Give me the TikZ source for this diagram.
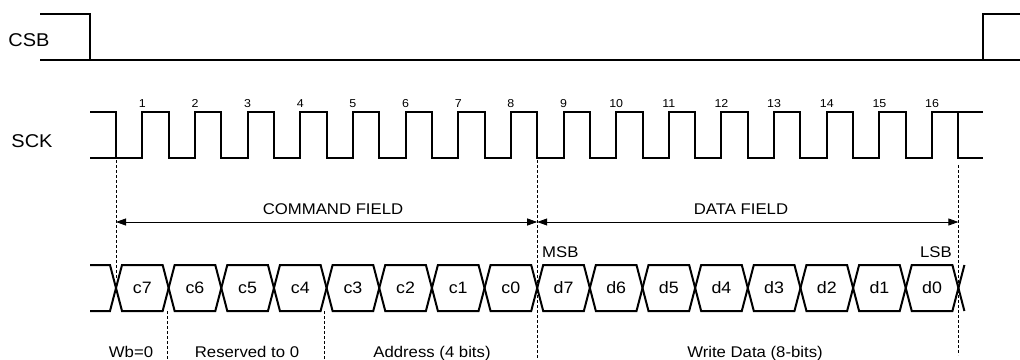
\documentclass[tikz,border=0pt]{standalone}
\usepackage{fontspec}
\setmainfont{Liberation Sans}[FakeStretch=1.08]
\usepackage{tikz}
\usetikzlibrary{arrows.meta}
\tikzset{
	wave/.style={line width=2pt},
	guide/.style={line width=0.7pt, dash pattern=on 3pt off 2pt},
	fieldarrow/.style={line width=0.8pt, {Triangle[length=10pt,width=7pt]}-{Triangle[length=10pt,width=7pt]}},
	siglabel/.style={font=\fontsize{18.5}{22}\selectfont, anchor=base, inner sep=0},
	clknum/.style={font=\fontsize{11.5}{13}\selectfont, anchor=base, inner sep=0},
	bittext/.style={font=\fontsize{16.5}{19}\selectfont, anchor=base, inner sep=0},
	note/.style={font=\fontsize{15.5}{18}\selectfont, anchor=base, inner sep=0}
}

\begin{document}
\begin{tikzpicture}[x=1pt, y=-1pt]
	\useasboundingbox (0,0) rectangle (1020,359);
	% Signal names:
	\node[siglabel] (csb) at (29,46) {CSB};
	\node[siglabel] (sck) at (32,147) {SCK};
	% CSB wave:
	\draw[wave] (40,14) -- (90,14) -- (90,60);
	\draw[wave] (40,60) -- (1020,60);
	\draw[wave] (983,60) -- (983,14) -- (1020,14);
	% SCK wave, 16 clocks:
	\draw[wave] (90,158) -- (116,158);
	\draw[wave] (90,112) -- (116,112) -- (116,158)
		\foreach \k in {1,...,16} {
			-- ({116+(\k-0.5)*52.65},158) -- ++(0,-46)
			-- ({116+\k*52.65},112) -- ++(0,46)
		} -- (983,158);
	\draw[wave] (958.4,112) -- (983,112);
	\foreach \k in {1,...,16}
		\node[clknum] (clk\k) at ({116+(\k-0.5)*52.65},107) {\k};
	% Guides:
	\draw[guide] (116,160) -- (116,278);
	\draw[guide] (537.2,160) -- (537.2,359);
	\draw[guide] (958.4,165) -- (958.4,355);
	\draw[guide] (167,311) -- (167,359);
	\draw[guide] (324.5,311) -- (324.5,359);
	% Fields:
	\coordinate (cmdL) at (116,222);
	\coordinate (fieldmid) at (537.2,222);
	\coordinate (dataR) at (958.4,222);
	\draw[fieldarrow] (cmdL) -- (fieldmid);
	\draw[fieldarrow] (fieldmid) -- (dataR);
	\node[note] (cmdfield) at (333,214.5) {COMMAND FIELD};
	\node[note] (datafield) at (741,214.5) {DATA FIELD};
	% Data bus:
	\draw[wave] (90,265) -- (110,265) -- (116,288);
	\draw[wave] (90,311) -- (110,311) -- (116,288);
	\foreach \k in {0,...,15} {
		\draw[wave] ({116+\k*52.65},288) -- ++(6,-23) -- ({110+(\k+1)*52.65},265) -- ++(6,23);
		\draw[wave] ({116+\k*52.65},288) -- ++(6,23) -- ({110+(\k+1)*52.65},311) -- ++(6,-23);
	}
	\draw[wave] (958.4,288) -- ++(6,-23);
	\draw[wave] (958.4,288) -- ++(6,23);
	\foreach \bit [count=\i from 0] in {c7,c6,c5,c4,c3,c2,c1,c0,d7,d6,d5,d4,d3,d2,d1,d0}
		\node[bittext] (\bit) at ({116+(\i+0.5)*52.65},293.5) {\bit};
	\node[note, anchor=base west] (msb) at (542,257) {MSB};
	\node[note, anchor=base east] (lsb) at (952,257) {LSB};
	% Bit groups:
	\node[note] (wb) at (131,357) {Wb=0};
	\node[note] (reserved) at (247,357) {Reserved to 0};
	\node[note] (address) at (432,357) {Address (4 bits)};
	\node[note] (writedata) at (755,357) {Write Data (8-bits)};
\end{tikzpicture}
\end{document}
